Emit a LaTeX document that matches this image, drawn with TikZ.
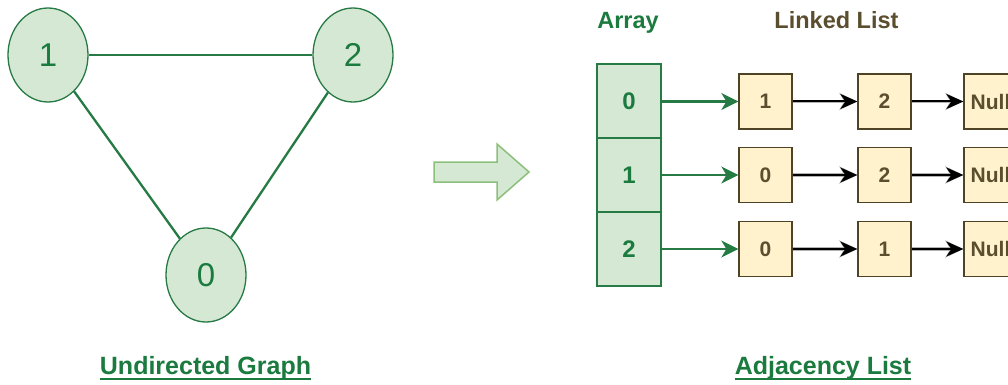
\documentclass[tikz,border=0pt]{standalone}
\usepackage{fontspec}
\setmainfont{Liberation Sans}
\usetikzlibrary{shapes.geometric,arrows.meta}
\definecolor{gfill}{HTML}{D5E8D4}
\definecolor{gline}{HTML}{267A44}
\definecolor{gtext}{HTML}{1B7A3E}
\definecolor{yfill}{HTML}{FFF2CC}
\definecolor{yline}{HTML}{4F4325}
\definecolor{ytext}{HTML}{5B4E2F}
\definecolor{bigarrow}{HTML}{8CC07A}
\tikzset{
  vertex/.style={ellipse, draw=gline, fill=gfill, line width=1.3pt, inner sep=0pt,
    minimum width=80pt, minimum height=94pt, text=gtext, font=\fontsize{33}{36}\selectfont},
  edge/.style={draw=gline, line width=2.3pt},
  cell/.style={rectangle, draw=gline, fill=gfill, line width=1.3pt, inner sep=0pt,
    minimum width=64pt, minimum height=74pt, text=gtext, font=\bfseries\fontsize{24}{28}\selectfont},
  item/.style={rectangle, draw=yline, fill=yfill, line width=1.3pt, inner sep=0pt,
    minimum width=53pt, minimum height=55pt, text=ytext, font=\bfseries\fontsize{21}{24}\selectfont},
  headA/.style={text=gtext, font=\bfseries\fontsize{23.5}{28}\selectfont, inner sep=0pt},
  headL/.style={text=ytext, font=\bfseries\fontsize{23.5}{28}\selectfont, inner sep=0pt},
  caption/.style={text=gtext, font=\bfseries\fontsize{25}{30}\selectfont, inner sep=0pt},
  underbar/.style={draw=gtext, line width=2pt},
  greenlink/.style={draw=gline, line width=2.2pt, -{Stealth[length=17pt,width=17pt,inset=5pt]}},
  blacklink/.style={draw=black, line width=2pt, -{Stealth[length=17pt,width=15pt,inset=5pt]},
    preaction={draw=black!30, line width=3.8pt, -{Stealth[length=18pt,width=17pt,inset=5pt]}}}
}
\begin{document}
\begin{tikzpicture}[x=1pt,y=-1pt]
\useasboundingbox (0,0) rectangle (1008,385);
\clip (0,0) rectangle (1008,385);

% undirected graph
\node[vertex] (v1) at (48,55) {1};
\node[vertex] (v2) at (353,55) {2};
\node[vertex] (v0) at (206,275) {0};
\draw[edge] (v1) -- (v2);
\draw[edge] (v1) -- (v0);
\draw[edge] (v2) -- (v0);
\node[caption, anchor=base] (capG) at (205.5,374) {Undirected Graph};
\draw[underbar] ([yshift=-5pt]capG.base west) -- ([yshift=-5pt]capG.base east);

% transformation arrow
\draw[draw=bigarrow, fill=gfill, line width=1.5pt, line join=miter]
  (434,162) -- (497,162) -- (497,144) -- (529,172) -- (497,200) -- (497,182) -- (434,182) -- cycle;

% array of heads
\node[headA, anchor=base] (hA) at (628,29) {Array};
\node[headL, anchor=base] (hL) at (836.5,29) {Linked List};
\node[cell] (a0) at (629,101) {0};
\node[cell] (a1) at (629,175) {1};
\node[cell] (a2) at (629,249) {2};

% row for vertex 0
\node[item] (r0c1) at (765.5,101.5) {1};
\node[item] (r0c2) at (884.5,101.5) {2};
\node[item] (r0c3) at (990.5,101.5) {Null};
% row for vertex 1
\node[item] (r1c1) at (765.5,175) {0};
\node[item] (r1c2) at (884.5,175) {2};
\node[item] (r1c3) at (990.5,175) {Null};
% row for vertex 2
\node[item] (r2c1) at (765.5,249) {0};
\node[item] (r2c2) at (884.5,249) {1};
\node[item] (r2c3) at (990.5,249) {Null};

\draw[greenlink] (a0.east |- r0c1) -- (r0c1);
\draw[greenlink] (a1.east |- r1c1) -- (r1c1);
\draw[greenlink] (a2.east |- r2c1) -- (r2c1);
\draw[blacklink] (r0c1) -- (r0c2);
\draw[blacklink] (r0c2) -- (r0c3);
\draw[blacklink] (r1c1) -- (r1c2);
\draw[blacklink] (r1c2) -- (r1c3);
\draw[blacklink] (r2c1) -- (r2c2);
\draw[blacklink] (r2c2) -- (r2c3);

\node[caption, anchor=base] (capA) at (823,374) {Adjacency List};
\draw[underbar] ([yshift=-5pt]capA.base west) -- ([yshift=-5pt]capA.base east);
\end{tikzpicture}
\end{document}
